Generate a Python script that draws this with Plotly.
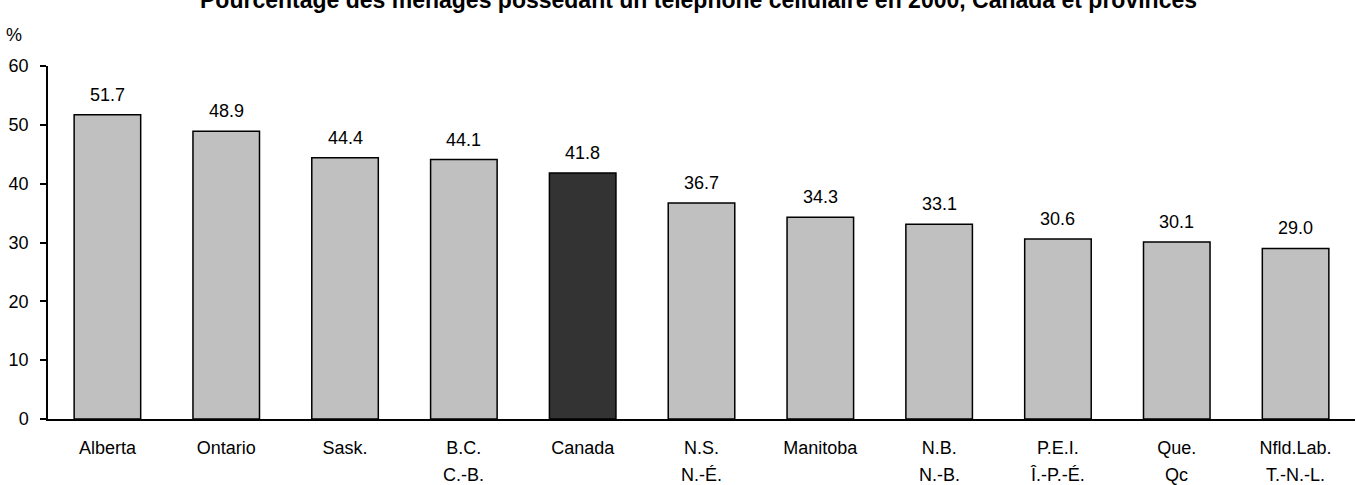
import plotly.graph_objects as go

categories_line1 = ["Alberta", "Ontario", "Sask.", "B.C.", "Canada", "N.S.", "Manitoba", "N.B.", "P.E.I.", "Que.", "Nfld.Lab."]
categories_line2 = ["", "", "", "C.-B.", "", "N.-É.", "", "N.-B.", "Î.-P.-É.", "Qc", "T.-N.-L."]
values = [51.7, 48.9, 44.4, 44.1, 41.8, 36.7, 34.3, 33.1, 30.6, 30.1, 29.0]
y_ticks = [0, 10, 20, 30, 40, 50, 60]
title_text = "Pourcentage des ménages possédant un téléphone cellulaire en 2000, Canada et provinces"

FONT = "Liberation Sans, Arial, sans-serif"
colors = ["#333333" if c == "Canada" else "#c0c0c0" for c in categories_line1]
xs = list(range(len(categories_line1)))

fig = go.Figure()
fig.add_trace(go.Bar(
    x=xs, y=values, width=0.56,
    marker=dict(color=colors, line=dict(color="black", width=1.5)),
    hoverinfo="skip",
))

for x, v in zip(xs, values):
    fig.add_annotation(x=x, y=v, xref="x", yref="y", text=f"{v:.1f}",
                       showarrow=False, yanchor="bottom", yshift=8,
                       font=dict(family=FONT, size=18, color="black"))
for x, t in zip(xs, categories_line2):
    if t:
        fig.add_annotation(x=x, y=0, xref="x", yref="paper", text=t,
                           showarrow=False, yanchor="middle", yshift=-56,
                           font=dict(family=FONT, size=18, color="black"))
fig.add_annotation(x=0.0, y=1, xref="paper", yref="paper", text="%",
                   showarrow=False, xanchor="left", yanchor="middle",
                   xshift=-44, yshift=31,
                   font=dict(family=FONT, size=18, color="black"))
fig.add_annotation(x=0.5, y=1, xref="paper", yref="paper", text="<b>" + title_text + "</b>",
                   showarrow=False, yanchor="middle", yshift=66, xshift=-3,
                   font=dict(family=FONT, size=23, color="black"))

fig.update_layout(
    width=1356, height=485,
    margin=dict(l=48, r=1, t=66, b=66),
    plot_bgcolor="white", paper_bgcolor="white",
    showlegend=False,
    font=dict(family=FONT, size=18, color="black"),
)

fig.update_xaxes(
    range=[-0.5, len(xs) - 0.5],
    tickmode="array", tickvals=xs, ticktext=categories_line1,
    showline=True, linecolor="black", linewidth=1.5,
    ticks="", showgrid=False, zeroline=False,
    tickfont=dict(family=FONT, size=18, color="black"),
    ticklabelstandoff=12,
)
fig.update_yaxes(
    range=[0, 60], tickmode="array", tickvals=y_ticks,
    showline=True, linecolor="black", linewidth=1.5,
    ticks="outside", ticklen=6, tickwidth=1.5, tickcolor="black",
    showgrid=False, zeroline=False,
    tickfont=dict(family=FONT, size=18, color="black"),
    ticklabelstandoff=8,
)

fig.write_html("out.html", config={"displayModeBar": False},
               post_script="document.body.style.margin='0';document.body.style.overflow='hidden';")
